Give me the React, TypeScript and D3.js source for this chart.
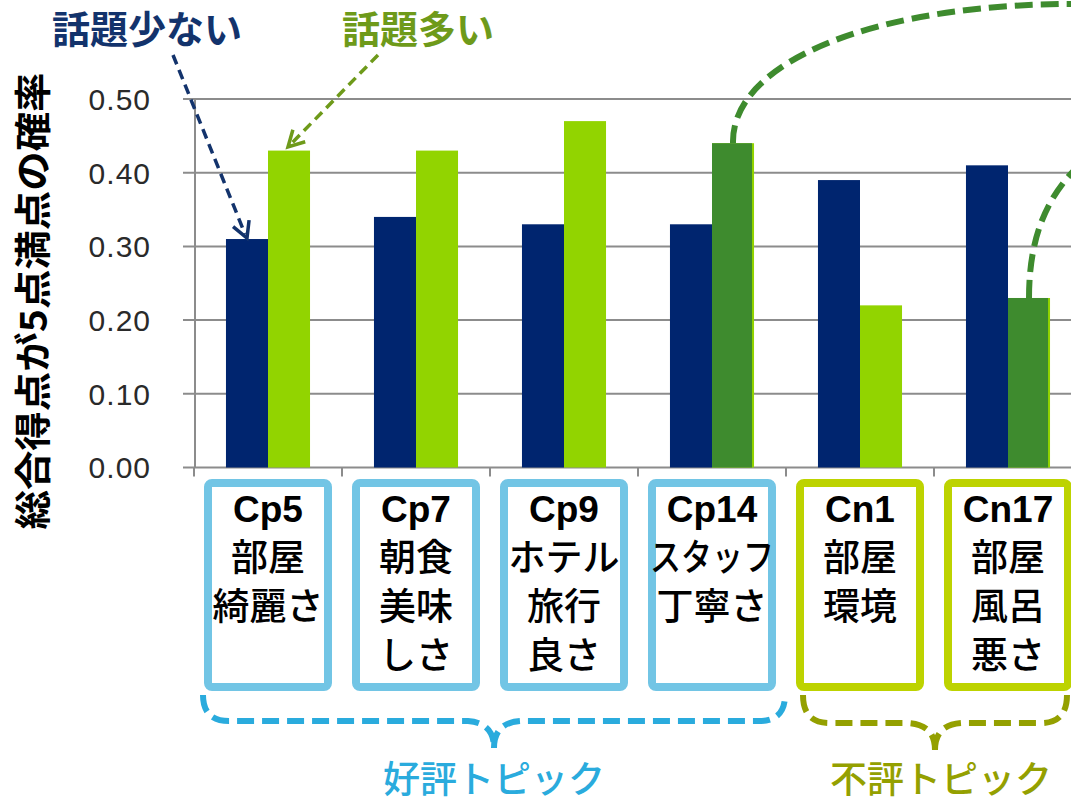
import React from 'react';
import * as d3 from 'd3';

const categories = ['Cp5', 'Cp7', 'Cp9', 'Cp14', 'Cn1', 'Cn17'];
const labelLines = [
  ['部屋', '綺麗さ'],
  ['朝食', '美味', 'しさ'],
  ['ホテル', '旅行', '良さ'],
  ['スタッフ', '丁寧さ'],
  ['部屋', '環境'],
  ['部屋', '風呂', '悪さ'],
];
const fewTopic = [0.31, 0.34, 0.33, 0.33, 0.39, 0.41];
const manyTopic = [0.43, 0.43, 0.47, 0.44, 0.22, 0.23];
const highlighted = ['Cp14', 'Cn17'];
const groupOf = ['pos', 'pos', 'pos', 'pos', 'neg', 'neg'];
const yTicks = [0, 0.1, 0.2, 0.3, 0.4, 0.5];
const series = ['few', 'many'];
const yTitle = '総合得点が5点満点の確率';
const fewLabel = '話題少ない';
const manyLabel = '話題多い';
const posLabel = '好評トピック';
const negLabel = '不評トピック';

const W = 1071;
const H = 806;
const NAVY = '#00256F';
const LIGHT = '#92D400';
const DARK = '#3E8B2E';
const BOX_POS = '#72C5E5';
const BOX_NEG = '#BDD300';
const BRACE_POS = '#2AABDD';
const BRACE_NEG = '#94A000';
const GRID = '#8C8C8C';
const JP = '"Noto Sans CJK JP", "Noto Sans", sans-serif';
const LAT = '"Liberation Sans", Arial, sans-serif';

export default function App() {
  const x0 = d3.scaleBand<string>().domain(categories).range([194, 1082]).paddingInner(0.432).paddingOuter(0.216);
  const step = x0.step();
  const x1 = d3.scaleBand<string>().domain(series).range([0, x0.bandwidth()]);
  const y = d3.scaleLinear().domain([0, 0.5]).range([467.5, 99]);
  const fmt = d3.format('.2f');
  const cellStart = (c: string) => (x0(c) as number) - step * 0.216;
  const center = (c: string) => (x0(c) as number) + x0.bandwidth() / 2;

  const brace = (a: number, b: number, c: number, top: number, mid: number, tip: number, r: number) =>
    `M${a},${top} Q${a},${mid} ${a + r},${mid} L${c - r},${mid} Q${c},${mid + 2} ${c},${tip} ` +
    `M${c},${tip} Q${c},${mid + 2} ${c + r},${mid} L${b - r},${mid} Q${b},${mid} ${b},${top}`;

  const arrow = (sx: number, sy: number, tx: number, ty: number, len: number) => {
    const ang = Math.atan2(ty - sy, tx - sx);
    const a1 = ang + Math.PI - 0.5;
    const a2 = ang + Math.PI + 0.5;
    return `M${tx + len * Math.cos(a1)},${ty + len * Math.sin(a1)} L${tx},${ty} L${tx + len * Math.cos(a2)},${ty + len * Math.sin(a2)}`;
  };

  const posCats = categories.filter((_, i) => groupOf[i] === 'pos');
  const negCats = categories.filter((_, i) => groupOf[i] === 'neg');
  const posL = cellStart(posCats[0]) + 9;
  const posR = cellStart(posCats[posCats.length - 1]) + step - 1;
  const negL = cellStart(negCats[0]) + 17;
  const negR = cellStart(negCats[negCats.length - 1]) + step - 15;
  const posC = (posL + posR) / 2;
  const negC = (negL + negR) / 2;

  const cp14 = categories[3];
  const cn17 = categories[5];
  const hx1 = (x0(cp14) as number) + (x1('many') as number) + x1.bandwidth() / 2;
  const hy1 = y(manyTopic[3]);
  const hx2 = (x0(cn17) as number) + (x1('many') as number) + x1.bandwidth() / 2;
  const hy2 = y(manyTopic[5]);

  return (
    <svg width={W} height={H} style={{ position: 'absolute', left: 0, top: 0, background: '#fff' }}>
      <rect x={0} y={0} width={W} height={H} fill="#fff" />
      {yTicks.map((t) => (
        <line key={'g' + t} x1={183} x2={W} y1={y(t)} y2={y(t)} stroke={GRID} strokeWidth={2} />
      ))}
      <line x1={195} x2={195} y1={y(0.5)} y2={y(0)} stroke={GRID} strokeWidth={2} />
      {categories.map((c) => (
        <line key={'xt' + c} x1={cellStart(c)} x2={cellStart(c)} y1={y(0)} y2={y(0) + 9} stroke={GRID} strokeWidth={2} />
      ))}
      {yTicks.map((t) => (
        <text key={'tl' + t} x={151} y={y(t)} dy="0.36em" textAnchor="end" fontFamily={LAT} fontSize={30} letterSpacing={1} fill="#2a2a2a">
          {fmt(t)}
        </text>
      ))}
      <text
        transform={`translate(47,${301}) rotate(-90)`}
        textAnchor="middle"
        fontFamily={JP}
        fontWeight={700}
        fontSize={37}
        fill="#000"
        textLength={457}
        lengthAdjust="spacingAndGlyphs"
      >
        {yTitle}
      </text>
      {categories.map((c, i) => {
        const bx = x0(c) as number;
        const hl = highlighted.includes(c);
        const xm = bx + (x1('many') as number);
        return (
          <g key={'b' + c}>
            <rect x={bx + (x1('few') as number)} y={y(fewTopic[i])} width={x1.bandwidth()} height={y(0) - y(fewTopic[i])} fill={NAVY} />
            <rect x={xm} y={y(manyTopic[i])} width={x1.bandwidth()} height={y(0) - y(manyTopic[i])} fill={LIGHT} />
            {hl && (
              <rect x={xm} y={y(manyTopic[i])} width={x1.bandwidth() - 2} height={y(0) - y(manyTopic[i])} fill={DARK} />
            )}
          </g>
        );
      })}
      {categories.map((c, i) => {
        const cx = center(c);
        const col = groupOf[i] === 'pos' ? BOX_POS : BOX_NEG;
        return (
          <g key={'box' + c}>
            <rect x={cx - 60} y={483} width={120} height={204} rx={4} fill="#fff" stroke={col} strokeWidth={8} />
            <text x={cx} y={522} textAnchor="middle" fontFamily={LAT} fontWeight={700} fontSize={37} fill="#000">
              {c}
            </text>
            {labelLines[i].map((ln, j) => (
              <text
                key={j}
                x={cx}
                y={571 + j * 49}
                textAnchor="middle"
                fontFamily={JP}
                fontWeight={500}
                fontSize={37}
                fill="#000"
                {...(ln.length > 3 ? { textLength: 124, lengthAdjust: 'spacingAndGlyphs' } : {})}
              >
                {ln}
              </text>
            ))}
          </g>
        );
      })}
      <path d={brace(posL, posR, posC, 695, 721, 748, 26)} fill="none" stroke={BRACE_POS} strokeWidth={6} strokeDasharray="17 8" />
      <path d={brace(negL, negR, negC, 695, 723, 750, 26)} fill="none" stroke={BRACE_NEG} strokeWidth={6} strokeDasharray="17 8" />
      <text x={posC} y={793} textAnchor="middle" fontFamily={JP} fontWeight={500} fontSize={37} fill={BRACE_POS}>
        {posLabel}
      </text>
      <text x={negC + 6} y={793} textAnchor="middle" fontFamily={JP} fontWeight={500} fontSize={37} fill={BRACE_NEG}>
        {negLabel}
      </text>
      <text x={147} y={43} textAnchor="middle" fontFamily={JP} fontWeight={700} fontSize={38} fill="#13336C">
        {fewLabel}
      </text>
      <text x={418} y={43} textAnchor="middle" fontFamily={JP} fontWeight={700} fontSize={38} fill="#6E9A1A">
        {manyLabel}
      </text>
      <path d="M173,55 L245,234" fill="none" stroke="#13336C" strokeWidth={3.5} strokeDasharray="10 6" />
      <path d={arrow(173, 55, 247, 238, 18)} fill="none" stroke="#13336C" strokeWidth={3.5} />
      <path d="M378,55 L291,144" fill="none" stroke="#6E9A1A" strokeWidth={3.5} strokeDasharray="10 6" />
      <path d={arrow(378, 55, 288, 147, 18)} fill="none" stroke="#6E9A1A" strokeWidth={3.5} />
      <path d={`M${hx1},${hy1} C${hx1 - 2},60 880,2 1085,4`} fill="none" stroke={DARK} strokeWidth={6} strokeDasharray="18 8" />
      <path d={`M${hx2},${hy2} C${hx2},240 1045,195 1085,160`} fill="none" stroke={DARK} strokeWidth={6} strokeDasharray="18 8" />
    </svg>
  );
}
